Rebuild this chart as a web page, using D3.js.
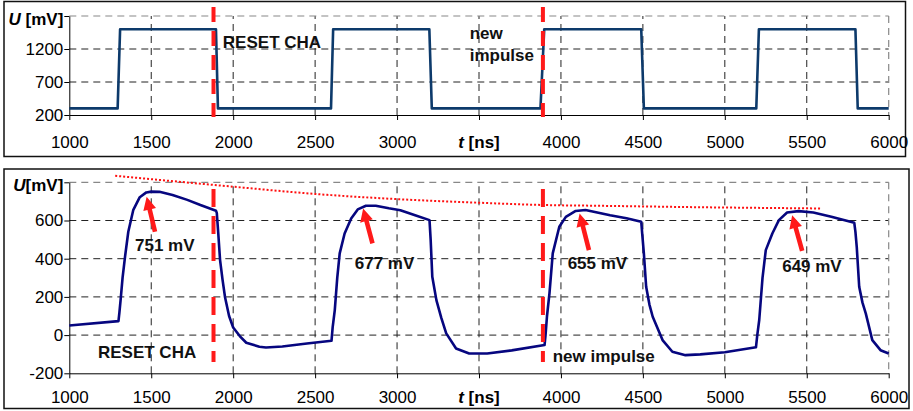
<!DOCTYPE html>
<html><head><meta charset="utf-8">
<script src="https://cdn.jsdelivr.net/npm/d3@7"></script>
<style>
html,body{margin:0;padding:0;background:#fff;}
svg{display:block;font-family:"Liberation Sans",Arial,sans-serif;}
</style></head>
<body><svg id="c" width="913" height="411"></svg>
<script>
// ---------- data ----------
const xTicks = [1000,1500,2000,2500,3000,3500,4000,4500,5000,5500,6000];
const topYTicks = [200,700,1200,1700];
const botYTicks = [-200,0,200,400,600,800];

// upper trace: control impulse [t ns, U mV]
const pulseT = [1000,1295,1310,1895,1907,2597,2610,3197,3212,3875,3898,4490,4506,5192,5208,5797,5811,6000];
const pulseU = [300,300,1500,1500,300,300,1500,1500,300,300,1500,1500,300,300,1500,1500,300,300];

// lower trace: output signal
const sigT = [1000,1300,1306,1313,1325,1340,1360,1390,1430,1470,1500,1550,1630,1720,1800,1895,
  1900,1910,1920,1935,1950,1975,2000,2040,2080,2160,2200,2300,2450,2600,
  2607,2620,2635,2650,2680,2720,2760,2810,2870,2950,3020,3110,3198,
  3205,3215,3240,3270,3300,3360,3440,3550,3700,3900,
  3906,3915,3930,3950,3990,4030,4090,4150,4300,4400,4490,
  4497,4506,4520,4540,4560,4620,4680,4760,4850,5000,5190,
  5198,5210,5230,5250,5290,5330,5380,5450,5540,5650,5790,
  5797,5805,5820,5840,5860,5900,5950,6000];
const sigU = [50,73,120,183,300,410,541,654,722,747,751,750,733,708,681,651,
  640,520,393,290,200,100,40,-5,-40,-61,-65,-60,-44,-30,
  40,131,300,428,532,611,658,677,677,664,654,628,602,
  500,305,183,90,9,-70,-96,-96,-80,-52,
  0,100,218,428,567,619,650,655,627,612,593,
  520,428,253,160,96,-26,-87,-105,-101,-90,-64,
  0,79,300,445,532,602,642,649,642,620,588,
  540,462,253,170,114,-26,-79,-96];

// dotted envelope of the peaks
const envT = [1280,2000,2500,3000,3500,3900,4240,4800,5590];
const envU = [834,777,739,712,693,681,677,670,663];

// peak annotations
const peakLabels = ["751 mV","677 mV","655 mV","649 mV"];
const peakTipT = [1472,2793,4114,5411];
const peakTipU = [724,663,637,628];
const peakTailT = [1523,2850,4171,5472];
const peakTailU = [541,480,445,441];
const peakLabT = [1401,2742,4041,5350];
const peakLabU = [441,346,346,328];

// event markers
const resetT = 1880, impulseT = 3890;

// ---------- drawing ----------
const svg = d3.select("#c");
const FS = 17;

// frames
svg.append("rect").attr("x",4).attr("y",1.5).attr("width",901.5).attr("height",155)
  .attr("fill","none").attr("stroke","#111").attr("stroke-width",1.5);
svg.append("rect").attr("x",4).attr("y",169).attr("width",905).attr("height",239.5)
  .attr("fill","none").attr("stroke","#111").attr("stroke-width",1.5);

const x = d3.scaleLinear().domain([1000,6000]).range([69.3,888.7]);
const yT = d3.scaleLinear().domain([200,1700]).range([115,16]);
const yB = d3.scaleLinear().domain([-200,800]).range([373.3,182.3]);

function panel(y, yTicks, ySpace, xLabBase, yTitleBase){
  const g = svg.append("g");
  const [x0,x1] = x.range(); const [yb,yt] = y.range();
  // grid
  g.selectAll(".vg").data(xTicks.slice(1,-1)).join("line")
    .attr("x1",d=>x(d)).attr("x2",d=>x(d)).attr("y1",yb).attr("y2",yt)
    .attr("stroke","#222").attr("stroke-width",1).attr("stroke-dasharray","7,5");
  g.selectAll(".hg").data(yTicks.slice(1,-1)).join("line")
    .attr("x1",x0).attr("x2",x1).attr("y1",d=>y(d)).attr("y2",d=>y(d))
    .attr("stroke","#222").attr("stroke-width",1).attr("stroke-dasharray","7,5");
  // plot border top / right (grey dashed)
  g.append("line").attr("x1",x0).attr("x2",x1).attr("y1",yt).attr("y2",yt)
    .attr("stroke","#888").attr("stroke-width",1.2).attr("stroke-dasharray","7,5");
  g.append("line").attr("x1",x1).attr("x2",x1).attr("y1",yt).attr("y2",yb)
    .attr("stroke","#888").attr("stroke-width",1.2).attr("stroke-dasharray","7,5");
  // axes
  const ax = g.append("g").attr("transform",`translate(0,${yb})`)
    .call(d3.axisBottom(x).tickValues(xTicks).tickSize(5).tickSizeOuter(0)
      .tickFormat(d=> d===3500 ? "" : d));
  ax.selectAll("text").attr("dy",null).attr("y",xLabBase-yb)
    .style("font-size",FS+"px").attr("fill","#000").attr("font-family",null);
  const ay = g.append("g").attr("transform",`translate(${x0},0)`)
    .call(d3.axisLeft(y).tickValues(yTicks).tickSize(5).tickSizeOuter(0).tickPadding(1)
      .tickFormat(d=> d===yTicks[yTicks.length-1] ? "" : d));
  ay.selectAll("text").style("font-size",FS+"px").attr("fill","#000").attr("font-family",null);
  [ax,ay].forEach(a=>{a.select(".domain").attr("stroke","#000");a.selectAll(".tick line").attr("stroke","#000");});
  // x title
  const xt = g.append("text").attr("x",x(3500)).attr("y",xLabBase).attr("text-anchor","middle")
    .style("font-size",FS+"px").style("font-weight","bold");
  xt.append("tspan").text("t").style("font-style","italic");
  xt.append("tspan").text(" [ns]");
  // y title
  const yt2 = g.append("text").attr("x",x0-6).attr("y",yTitleBase).attr("text-anchor","end")
    .style("font-size",FS+"px").style("font-weight","bold");
  yt2.append("tspan").text("U").style("font-style","italic");
  yt2.append("tspan").text(ySpace ? " [mV]" : "[mV]");
  return g;
}

panel(yT, topYTicks, true, 148, 24.5);
panel(yB, botYTicks, false, 403, 191);

// top trace
const pulse = pulseT.map((t,i)=>[t,pulseU[i]]);
svg.append("path").datum(pulse)
  .attr("d", d3.line().x(d=>x(d[0])).y(d=>yT(d[1])))
  .attr("fill","none").attr("stroke","#0d3a6b").attr("stroke-width",2.6).attr("stroke-linejoin","round");

// bottom trace
const sig = sigT.map((t,i)=>[t,sigU[i]]);
svg.append("path").datum(sig)
  .attr("d", d3.line().x(d=>x(d[0])).y(d=>yB(d[1])))
  .attr("fill","none").attr("stroke","#06067f").attr("stroke-width",2.6).attr("stroke-linejoin","round");

// envelope dotted
const env = envT.map((t,i)=>[t,envU[i]]);
svg.append("path").datum(env)
  .attr("d", d3.line().curve(d3.curveMonotoneX).x(d=>x(d[0])).y(d=>yB(d[1])))
  .attr("fill","none").attr("stroke","#ff1010").attr("stroke-width",2).attr("stroke-dasharray","2,2");

// red dashed event lines
[resetT, impulseT].forEach(t=>{
  svg.append("line").attr("x1",x(t)).attr("x2",x(t)).attr("y1",7).attr("y2",117)
    .attr("stroke","#ff1a1a").attr("stroke-width",4).attr("stroke-dasharray","15,9");
  svg.append("line").attr("x1",x(t)).attr("x2",x(t)).attr("y1",189).attr("y2",362)
    .attr("stroke","#ff1a1a").attr("stroke-width",4).attr("stroke-dasharray","18,9");
});

// arrows
function arrow(x1,y1,x2,y2){
  const dx=x2-x1, dy=y2-y1, L=Math.hypot(dx,dy), ux=dx/L, uy=dy/L, px=-uy, py=ux;
  const hl=13, hw=6.5, sw=2.3;
  const bx=x2-ux*hl, by=y2-uy*hl;
  const pts=[[x1+px*sw,y1+py*sw],[bx+px*sw,by+py*sw],[bx+px*hw,by+py*hw],[x2,y2],
    [bx-px*hw,by-py*hw],[bx-px*sw,by-py*sw],[x1-px*sw,y1-py*sw]];
  svg.append("polygon").attr("points",pts.map(p=>p.join(",")).join(" ")).attr("fill","#ff1a1a");
}
peakLabels.forEach((lab,i)=>{
  arrow(x(peakTailT[i]),yB(peakTailU[i]),x(peakTipT[i]),yB(peakTipU[i]));
  svg.append("text").attr("x",x(peakLabT[i])).attr("y",yB(peakLabU[i]))
    .style("font-size",FS+"px").style("font-weight","bold").attr("fill","#111").text(lab);
});

// text annotations
function note(txt, px, py){
  svg.append("text").attr("x",px).attr("y",py).style("font-size",FS+"px")
    .style("font-weight","bold").attr("fill","#111").text(txt);
}
note("RESET CHA", x(1937), yT(1215));
note("new", x(3443), yT(1351));
note("impulse", x(3443), yT(1018));
note("RESET CHA", x(1175), yB(-120));
note("new impulse", x(3950), yB(-139));
</script></body></html>
